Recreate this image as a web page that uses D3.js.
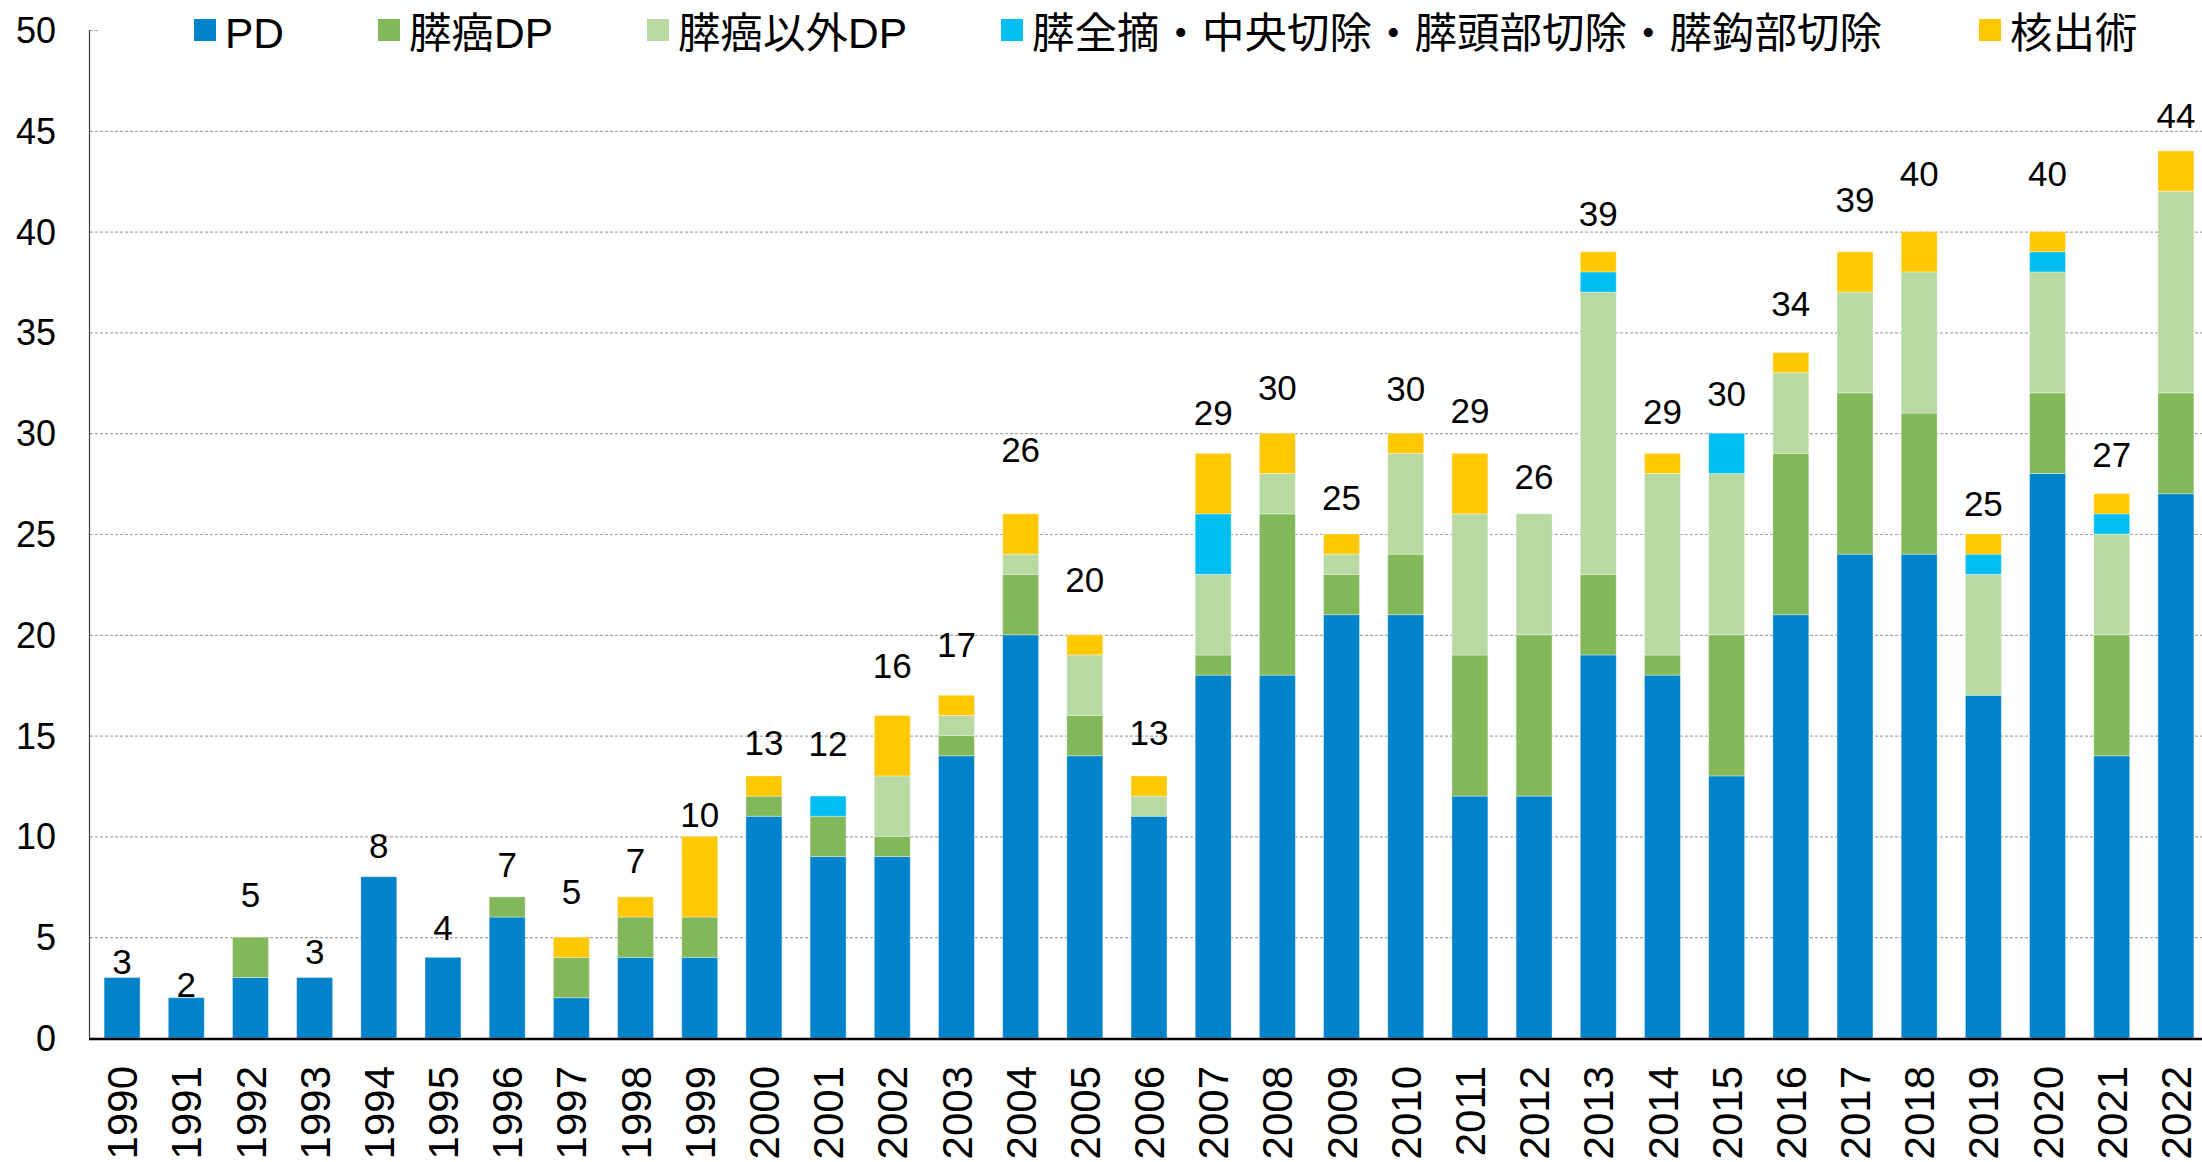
<!DOCTYPE html>
<html>
<head>
<meta charset="utf-8">
<script src="https://cdn.jsdelivr.net/npm/d3@7"></script>
<style>
  body { margin: 0; background: #ffffff; }
  svg text { font-family: "Liberation Sans", Arial, "Noto Sans CJK JP", sans-serif; }
</style>
</head>
<body>
<div id="chart"></div>
<script>
var years = ["1990", "1991", "1992", "1993", "1994", "1995", "1996", "1997", "1998", "1999", "2000",
    "2001", "2002", "2003", "2004", "2005", "2006", "2007", "2008", "2009", "2010", "2011",
    "2012", "2013", "2014", "2015", "2016", "2017", "2018", "2019", "2020", "2021", "2022"];

var seriesNames = ["PD", "膵癌DP", "膵癌以外DP", "膵全摘・中央切除・膵頭部切除・膵鈎部切除", "核出術"];

var pd =         [3, 2, 3, 3, 8, 4, 6, 2, 4, 4, 11, 9, 9, 14, 20, 14, 11, 18, 18, 21, 21, 12, 12, 19, 18, 13, 21, 24, 24, 17, 28, 14, 27];
var dpCancer =   [0, 0, 2, 0, 0, 0, 1, 2, 2, 2, 1, 2, 1, 1, 3, 2, 0, 1, 8, 2, 3, 7, 8, 4, 1, 7, 8, 8, 7, 0, 4, 6, 5];
var dpOther =    [0, 0, 0, 0, 0, 0, 0, 0, 0, 0, 0, 0, 3, 1, 1, 3, 1, 4, 2, 1, 5, 7, 6, 14, 9, 8, 4, 5, 7, 6, 6, 5, 10];
var totalPanc =  [0, 0, 0, 0, 0, 0, 0, 0, 0, 0, 0, 1, 0, 0, 0, 0, 0, 3, 0, 0, 0, 0, 0, 1, 0, 2, 0, 0, 0, 1, 1, 1, 0];
var enucleation = [0, 0, 0, 0, 0, 0, 0, 1, 1, 4, 1, 0, 3, 1, 2, 1, 1, 3, 2, 1, 1, 3, 0, 1, 1, 0, 1, 2, 2, 1, 1, 1, 2];

var yTicks = [0, 5, 10, 15, 20, 25, 30, 35, 40, 45, 50];

// how far each total label sits above its bar (px)
var labelGap = [4, 1, 30, 14, 19, 17, 20, 33, 24, 9, 21, 40, 37, 38, 52, 43, 31, 28, 33, 24, 32, 30,
    25, 26, 29, 27, 37, 40, 46, 18, 46, 27, 23];

var colors = ["#0083cb", "#82b75a", "#b8d9a2", "#00bdf2", "#ffc800"];

var width = 2202, height = 1162;
var svg = d3.select("#chart").append("svg")
    .attr("width", width)
    .attr("height", height);

var x = d3.scaleBand()
    .domain(years)
    .range([90, 2208])
    .paddingInner(0.44)
    .paddingOuter(0.22);

var y = d3.scaleLinear()
    .domain([0, 50])
    .range([1038, 30]);

var rows = years.map(function (yr, i) {
    return { year: yr, s0: pd[i], s1: dpCancer[i], s2: dpOther[i], s3: totalPanc[i], s4: enucleation[i] };
});
var keys = ["s0", "s1", "s2", "s3", "s4"];
var stacked = d3.stack().keys(keys)(rows);

// grid lines
svg.append("g")
    .selectAll("line")
    .data(yTicks.filter(function (d) { return d > 0 && d < 50; }))
    .enter()
    .append("line")
    .attr("x1", 90)
    .attr("x2", width)
    .attr("y1", function (d) { return y(d) + 0.5; })
    .attr("y2", function (d) { return y(d) + 0.5; })
    .attr("stroke", "#a6a6a6")
    .attr("stroke-width", 1.2)
    .attr("stroke-dasharray", "3,2");
svg.append("line")
    .attr("x1", 90).attr("x2", 99)
    .attr("y1", y(50) + 0.5).attr("y2", y(50) + 0.5)
    .attr("stroke", "#a6a6a6")
    .attr("stroke-width", 1.2)
    .attr("stroke-dasharray", "3,2");

// bars
svg.append("g")
    .selectAll("g")
    .data(stacked)
    .enter()
    .append("g")
    .attr("fill", function (d, i) { return colors[i]; })
    .selectAll("rect")
    .data(function (d) { return d.filter(function (p) { return p[1] > p[0]; }); })
    .enter()
    .append("rect")
    .attr("x", function (d) { return x(d.data.year); })
    .attr("width", x.bandwidth())
    .attr("y", function (d) { return y(d[1]); })
    .attr("height", function (d) { return y(d[0]) - y(d[1]); })
    .attr("stroke", "rgba(255,255,255,0.35)")
    .attr("stroke-width", 1);

// y axis
svg.append("line")
    .attr("x1", 89.5).attr("x2", 89.5)
    .attr("y1", y(50)).attr("y2", y(0))
    .attr("stroke", "#404040")
    .attr("stroke-width", 1.2);

svg.append("g")
    .selectAll("text")
    .data(yTicks)
    .enter()
    .append("text")
    .attr("x", 56)
    .attr("y", function (d) { return y(d); })
    .attr("dy", "0.36em")
    .attr("text-anchor", "end")
    .attr("font-size", "36px")
    .attr("fill", "#000")
    .text(function (d) { return d; });

// x axis
svg.append("line")
    .attr("x1", 89).attr("x2", width)
    .attr("y1", y(0) + 1).attr("y2", y(0) + 1)
    .attr("stroke", "#000")
    .attr("stroke-width", 2.5);

svg.append("g")
    .selectAll("text")
    .data(years)
    .enter()
    .append("text")
    .attr("transform", function (d) {
        return "translate(" + (x(d) + x.bandwidth() / 2) + "," + 1066 + ") rotate(-90)";
    })
    .attr("dy", "0.36em")
    .attr("text-anchor", "end")
    .attr("font-size", "42px")
    .attr("fill", "#000")
    .text(function (d) { return d; });

// total labels
svg.append("g")
    .selectAll("text")
    .data(rows)
    .enter()
    .append("text")
    .attr("x", function (d) { return x(d.year) + x.bandwidth() / 2; })
    .attr("y", function (d, i) {
        var t = d.s0 + d.s1 + d.s2 + d.s3 + d.s4;
        return y(t) - labelGap[i];
    })
    .attr("text-anchor", "middle")
    .attr("font-size", "35px")
    .attr("fill", "#000")
    .text(function (d) { return d.s0 + d.s1 + d.s2 + d.s3 + d.s4; });

// legend
var legendX = [194, 378, 647, 1001, 1979];
var legend = svg.append("g");
seriesNames.forEach(function (name, i) {
    legend.append("rect")
        .attr("x", legendX[i])
        .attr("y", 19)
        .attr("width", 22)
        .attr("height", 22)
        .attr("fill", colors[i]);
    legend.append("text")
        .attr("x", legendX[i] + 31)
        .attr("y", 48)
        .attr("font-size", "42.5px")
        .attr("fill", "#000")
        .text(name);
});
</script>
</body>
</html>
